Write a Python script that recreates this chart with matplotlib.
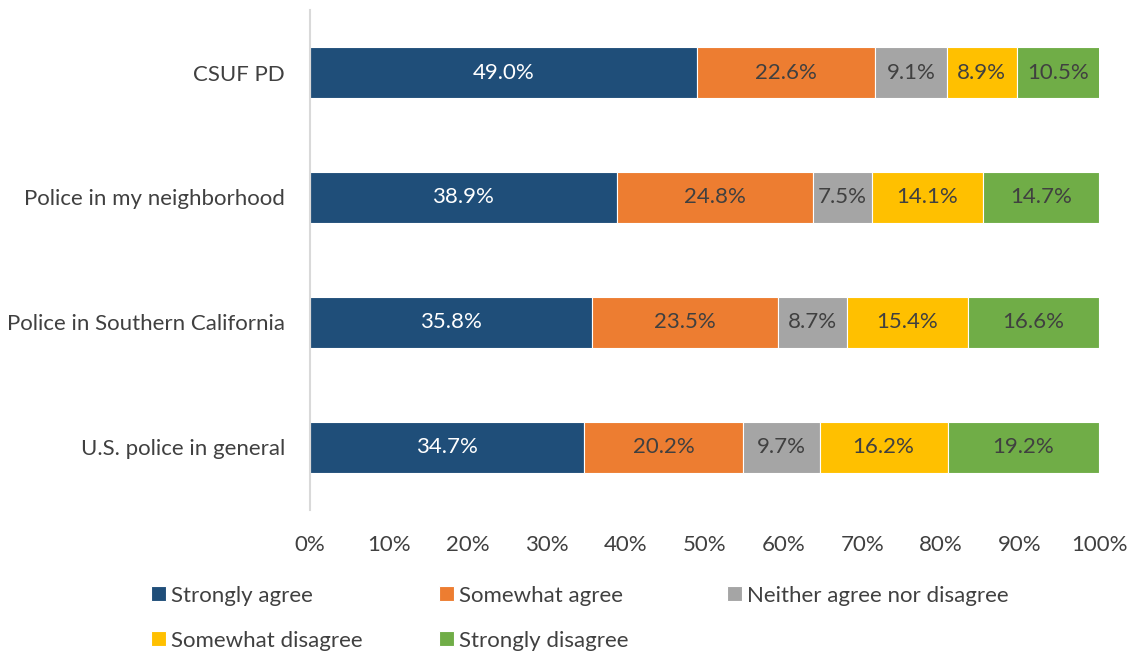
import matplotlib.pyplot as plt
import numpy as np

plt.rcParams['font.family'] = ['Lato', 'DejaVu Sans']

categories = ["CSUF PD", "Police in my neighborhood", "Police in Southern California", "U.S. police in general"]
series = ["Strongly agree", "Somewhat agree", "Neither agree nor disagree", "Somewhat disagree", "Strongly disagree"]
strongly_agree = [49.0, 38.9, 35.8, 34.7]
somewhat_agree = [22.6, 24.8, 23.5, 20.2]
neither = [9.1, 7.5, 8.7, 9.7]
somewhat_disagree = [8.9, 14.1, 15.4, 16.2]
strongly_disagree = [10.5, 14.7, 16.6, 19.2]
colors = ["#1F4E79", "#ED7D31", "#A5A5A5", "#FFC000", "#70AD47"]
text_colors = ["white", "#404040", "#404040", "#404040", "#404040"]

data = [strongly_agree, somewhat_agree, neither, somewhat_disagree, strongly_disagree]
fs = 16

fig = plt.figure(figsize=(11.3, 6.54), dpi=100)
ax = fig.add_axes([0.2743, 0.2202, 0.6983, 0.7645])

y = np.arange(len(categories))
left = np.zeros(len(categories))
for vals, name, c, tc in zip(data, series, colors, text_colors):
    vals = np.array(vals)
    ax.barh(y, vals, left=left, height=0.41, color=c, label=name,
            edgecolor='white', linewidth=0.8)
    for yi, l, v in zip(y, left, vals):
        ax.text(l + v / 2, yi, f"{v:.1f}%", ha='center', va='center',
                color=tc, fontsize=fs)
    left += vals

ax.set_xlim(0, 100)
ax.set_ylim(3.5, -0.5)
ax.set_yticks(y)
ax.set_yticklabels(categories, fontsize=fs, color='#404040')
ax.set_xticks(np.arange(0, 101, 10))
ax.set_xticklabels([f"{t}%" for t in range(0, 101, 10)], fontsize=fs, color='#404040')
ax.tick_params(length=0)
ax.tick_params(axis='y', pad=18)
ax.tick_params(axis='x', pad=18)
for s in ['top', 'right', 'bottom']:
    ax.spines[s].set_visible(False)
ax.spines['left'].set_color('#D9D9D9')
ax.spines['left'].set_linewidth(1.5)

# legend: three fixed-width columns, filled row by row
handles, labels = ax.get_legend_handles_labels()
col_x = [151, 439, 727]
for col in range(3):
    idx = [i for i in (col, col + 3) if i < len(handles)]
    fig.legend([handles[i] for i in idx], [labels[i] for i in idx],
               loc='upper left', bbox_to_anchor=(col_x[col] / 1130, 0.1047),
               frameon=False, fontsize=fs, handlelength=0.68, handleheight=0.68,
               handletextpad=0.22, labelspacing=1.125, borderpad=0,
               borderaxespad=0, labelcolor='#404040')

fig.savefig("out.png", dpi=100)
